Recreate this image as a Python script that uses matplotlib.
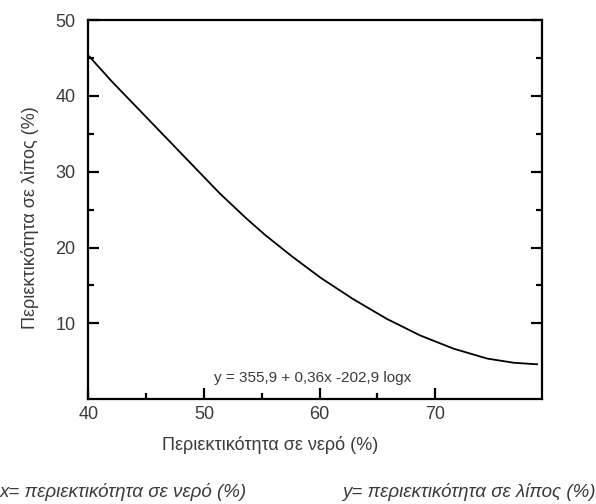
import matplotlib.pyplot as plt

# curve: water content (%) vs fat content (%)
water = [40.1, 42.05, 44.2, 49.25, 51.4, 53.7, 55.3, 57.6, 60.1, 62.9, 65.8, 68.7, 71.6, 74.5, 76.8, 78.8]
fat = [45.2, 41.9, 38.5, 30.5, 27.1, 23.8, 21.65, 18.85, 16.0, 13.2, 10.6, 8.4, 6.65, 5.35, 4.8, 4.6]

x_ticks = [40, 50, 60, 70]
x_minor = [45, 55, 65]
y_ticks = [10, 20, 30, 40, 50]
y_minor = [15, 25, 35, 45]

plt.rcParams["font.family"] = ["Liberation Sans", "DejaVu Sans"]
txt = "#3a3a3a"

fig = plt.figure(figsize=(5.96, 5.04), dpi=100)
ax = fig.add_axes([0.148, 0.208, 0.761, 0.752])

ax.plot(water, fat, color="black", lw=1.3)

ax.set_xlim(40, 79.2)
ax.set_ylim(0, 50)
ax.set_xticks(x_ticks)
ax.set_xticks(x_minor, minor=True)
ax.set_yticks(y_ticks)
ax.set_yticks(y_minor, minor=True)

for s in ax.spines.values():
    s.set_linewidth(1.6)

ax.tick_params(which="both", direction="in", width=1.6, colors="black",
               labelcolor=txt, labelsize=13, right=True, top=False)
ax.tick_params(which="major", length=8)
ax.tick_params(which="minor", length=4)
ax.tick_params(axis="x", pad=5)
ax.tick_params(axis="y", pad=9)

# axis titles
fig.text(270 / 596, 1 - 445 / 504, "Περιεκτικότητα σε νερό (%)", fontsize=13,
         color=txt, ha="center", va="center")
fig.text(30 / 596, 1 - 218 / 504, "Περιεκτικότητα σε λίπος (%)", fontsize=13,
         color=txt, ha="center", va="center", rotation=90)

ax.text(59.4, 2.8, "y = 355,9 + 0,36x -202,9 logx", fontsize=11,
        color=txt, ha="center", va="center")

fig.text(0.0, 0.024, "x= περιεκτικότητα σε νερό (%)", fontsize=13.5,
         style="italic", color=txt, ha="left", va="center")
fig.text(1.0, 0.024, "y= περιεκτικότητα σε λίπος (%)", fontsize=13.5,
         style="italic", color=txt, ha="right", va="center")

fig.savefig("out.png", dpi=100)
